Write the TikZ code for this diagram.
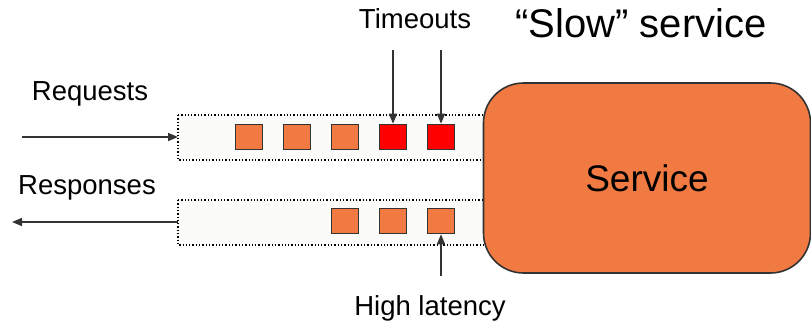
\documentclass[tikz,border=0pt]{standalone}
\usepackage{fontspec}
\setmainfont{Liberation Sans}
\usetikzlibrary{arrows.meta}
\definecolor{svcorange}{HTML}{F07A41}
\definecolor{timeoutred}{HTML}{FF0000}
\definecolor{edge}{HTML}{333333}
\definecolor{queuebg}{HTML}{FBFBFA}
\tikzset{
  lbl/.style={font=\fontsize{27.5}{30}\selectfont, inner sep=0pt},
  queue/.style={draw=black, dotted, line width=1.3pt, fill=queuebg},
  msg/.style={draw=edge, line width=1.6pt, fill=svcorange, minimum width=27pt, minimum height=25pt, inner sep=0pt},
  lost/.style={msg, fill=timeoutred},
  flow/.style={draw=edge, line width=1.5pt, -{Triangle[length=10pt,width=8pt]}},
}
\begin{document}
\begin{tikzpicture}[x=1pt,y=-1pt]
\useasboundingbox (0,0) rectangle (811,324);
% queues
\draw[queue] (178,115) rectangle (490,160);
\draw[queue] (178,200) rectangle (490,245);
\coordinate (qin) at (178,137);
\coordinate (qout) at (178,222);
% service
\node[draw=edge, line width=1.6pt, fill=svcorange, rounded corners=40pt,
      minimum width=327pt, minimum height=190pt, inner sep=0pt,
      font=\fontsize{37}{40}\selectfont] (svc) at (647,178) {Service};
\node[font=\fontsize{40}{44}\selectfont, inner sep=0pt] (title) at (641,23) {“Slow” service};
% request queue
\node[msg] (r1) at (249,137) {};
\node[msg] (r2) at (297,137) {};
\node[msg] (r3) at (345,137) {};
\node[lost] (r4) at (393,137) {};
\node[lost] (r5) at (441,137) {};
% response queue
\node[msg] (s1) at (345,221) {};
\node[msg] (s2) at (393,221) {};
\node[msg] (s3) at (441,221) {};
% labels
\node[lbl] (timeouts) at (415,19) {Timeouts};
\node[lbl] (requests) at (90,94) {Requests};
\node[lbl] (responses) at (87,188) {Responses};
\node[lbl] (latency) at (430,308) {High latency};
\coordinate (t1) at (393,50);
\coordinate (t2) at (441,50);
\coordinate (rin) at (22,137);
\coordinate (rout) at (12,222);
\coordinate (hl) at (441,276);
% arrows
\draw[flow] (t1) -- (r4.north);
\draw[flow] (t2) -- (r5.north);
\draw[flow] (rin) -- (qin);
\draw[flow] (qout) -- (rout);
\draw[flow] (hl) -- (s3.south);
\end{tikzpicture}
\end{document}
